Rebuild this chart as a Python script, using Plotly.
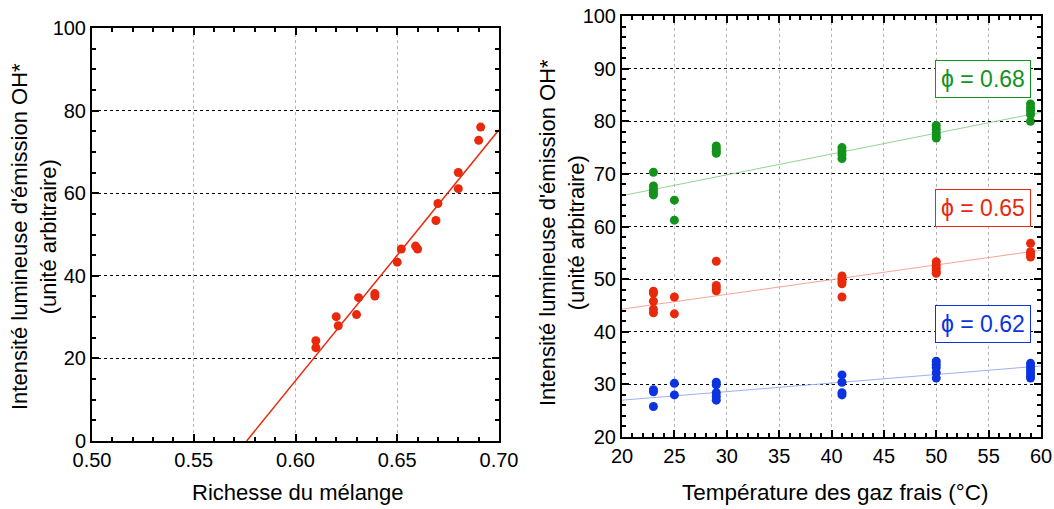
import numpy as np
import plotly.graph_objects as go

# ---- Left panel data: richesse vs intensité ----
richesse = [0.610, 0.610, 0.620, 0.621, 0.630, 0.631, 0.639, 0.639, 0.650, 0.652,
            0.659, 0.660, 0.669, 0.670, 0.680, 0.680, 0.690, 0.691]
intensite = [24.3, 22.6, 30.1, 27.9, 30.6, 34.7, 35.7, 35.1, 43.3, 46.5,
             47.2, 46.5, 53.4, 57.5, 61.1, 65.0, 72.8, 76.0]

# ---- Right panel data: temperature vs intensité for 3 richesses ----
temp_068 = [23, 23, 23, 23, 23, 25, 25, 29, 29, 29, 29, 41, 41, 41, 41,
            50, 50, 50, 50, 50, 59, 59, 59, 59, 59]
int_068 = [70.3, 67.7, 67.0, 66.5, 66.0, 65.0, 61.2, 75.3, 74.8, 74.3, 73.9,
           75.0, 74.4, 73.7, 72.9, 79.2, 78.5, 77.8, 77.2, 76.8, 83.3, 82.6, 82.0, 81.3, 80.0]

temp_065 = [23, 23, 23, 23, 23, 25, 25, 29, 29, 29, 29, 41, 41, 41, 41, 41,
            50, 50, 50, 50, 50, 59, 59, 59, 59]
int_065 = [47.7, 47.3, 45.8, 44.3, 43.6, 46.6, 43.4, 53.4, 48.8, 48.3, 47.8,
           50.6, 50.1, 49.6, 49.1, 46.6, 53.3, 52.6, 52.0, 51.4, 51.1, 56.8, 55.2, 54.7, 54.2]

temp_062 = [23, 23, 23, 25, 25, 29, 29, 29, 29, 29, 41, 41, 41, 41,
            50, 50, 50, 50, 50, 59, 59, 59, 59, 59, 59]
int_062 = [29.0, 28.6, 25.8, 30.2, 28.0, 30.4, 29.9, 28.4, 27.7, 27.0,
           31.8, 30.4, 28.4, 28.0, 34.4, 33.8, 33.2, 32.2, 31.2,
           34.0, 33.4, 32.8, 32.2, 31.6, 31.2]

# Linear fits as drawn in the reference (0.68, 0.65, 0.62)
fit_slope = [0.396, 0.280, 0.1625]
fit_intercept = [57.93, 38.70, 23.75]
fit_range = [20.0, 60.0]

labels = ["\u03d5 = 0.68", "\u03d5 = 0.65", "\u03d5 = 0.62"]
label_y = [88.1, 63.5, 41.4]
label_x = 54.5

FONT = "Liberation Sans, Arial, sans-serif"
RED = "#e8290b"
GREEN = "#13921c"
BLUE = "#0b34e0"
LIGHT = {GREEN: "#93d493", RED: "#f5a596", BLUE: "#9fb0f2"}

W, H = 1054, 509

fig = go.Figure()

# Left panel
m, b = np.polyfit(richesse, intensite, 1)
x0 = -b / m
fx = np.array([x0, 0.70])
fig.add_trace(go.Scatter(x=fx, y=m * fx + b, mode="lines",
                         line=dict(color=RED, width=1.5), xaxis="x", yaxis="y",
                         showlegend=False, hoverinfo="skip"))
fig.add_trace(go.Scatter(x=richesse, y=intensite, mode="markers",
                         marker=dict(color=RED, size=9), xaxis="x", yaxis="y",
                         showlegend=False))

# Right panel
series = [(temp_068, int_068, GREEN), (temp_065, int_065, RED), (temp_062, int_062, BLUE)]
for (t, v, c), mm, bb in zip(series, fit_slope, fit_intercept):
    tx = np.array(fit_range)
    fig.add_trace(go.Scatter(x=tx, y=mm * tx + bb, mode="lines",
                             line=dict(color=LIGHT[c], width=1), xaxis="x2", yaxis="y2",
                             showlegend=False, hoverinfo="skip"))
    fig.add_trace(go.Scatter(x=t, y=v, mode="markers",
                             marker=dict(color=c, size=9), xaxis="x2", yaxis="y2",
                             showlegend=False))


def px_x(p):
    return p / W


def px_y(p):
    return 1 - p / H


common = dict(showline=True, linecolor="black", linewidth=2, mirror="ticks",
              ticks="inside", ticklen=7, tickwidth=1.5, tickcolor="black",
              zeroline=False, showgrid=True, gridwidth=1, automargin=False,
              ticklabeloverflow="allow",
              tickfont=dict(family=FONT, size=20, color="black"))

fig.update_layout(
    template="none",
    width=W, height=H,
    margin=dict(l=0, r=0, t=0, b=0, pad=0),
    paper_bgcolor="white", plot_bgcolor="white",
    font=dict(family=FONT, size=20, color="black"),
    xaxis=dict(domain=[px_x(92), px_x(499)], anchor="y", range=[0.5, 0.7], dtick=0.05,
               tick0=0.5, tickformat=".2f", gridcolor="#b5b5b5", griddash="dot",
               minor=dict(dtick=0.01, ticks="inside", ticklen=4, tickcolor="black", showgrid=False),
               **common),
    yaxis=dict(domain=[px_y(441), px_y(28)], anchor="x", range=[0, 100], dtick=20,
               gridcolor="black", griddash="dot",
               minor=dict(dtick=5, ticks="inside", ticklen=4, tickcolor="black", showgrid=False),
               **common),
    xaxis2=dict(domain=[px_x(622), px_x(1041)], anchor="y2", range=[20, 60], dtick=5,
                gridcolor="#b5b5b5", griddash="dot",
                minor=dict(dtick=1, ticks="inside", ticklen=4, tickcolor="black", showgrid=False),
                **common),
    yaxis2=dict(domain=[px_y(437), px_y(16)], anchor="x2", range=[20, 100], dtick=10,
                gridcolor="black", griddash="dot",
                minor=dict(dtick=2, ticks="inside", ticklen=4, tickcolor="black", showgrid=False),
                **common),
)

ann = []
ctr = dict(xanchor="center", yanchor="middle", showarrow=False, xref="paper", yref="paper")
ann.append(dict(text="Richesse du mélange", x=px_x(298), y=px_y(492),
                font=dict(family=FONT, size=22), **ctr))
ann.append(dict(text="Température des gaz frais (°C)", x=px_x(835), y=px_y(492),
                font=dict(family=FONT, size=22.5), **ctr))
ann.append(dict(text="Intensité lumineuse d'émission OH*<br>(unité arbitraire)", x=px_x(34),
                y=px_y(237), textangle=-90, font=dict(family=FONT, size=22), **ctr))
ann.append(dict(text="Intensité lumineuse d'émission OH*<br>(unité arbitraire)", x=px_x(562),
                y=px_y(233), textangle=-90, font=dict(family=FONT, size=22), **ctr))
for lab, ly, c in zip(labels, label_y, [GREEN, RED, BLUE]):
    ann.append(dict(text=lab, x=label_x, y=ly, xref="x2", yref="y2", showarrow=False,
                    xanchor="center", yanchor="middle",
                    font=dict(family=FONT, size=23, color=c), bordercolor=c, borderwidth=1,
                    borderpad=5, bgcolor="white"))
fig.update_layout(annotations=ann)

# remove the default 8 px page margin so the figure fills the 1054x509 window
fig.write_html("out.html",
               config={"displayModeBar": False},
               post_script="document.body.style.margin='0';"
                           "document.documentElement.style.overflow='hidden';")
